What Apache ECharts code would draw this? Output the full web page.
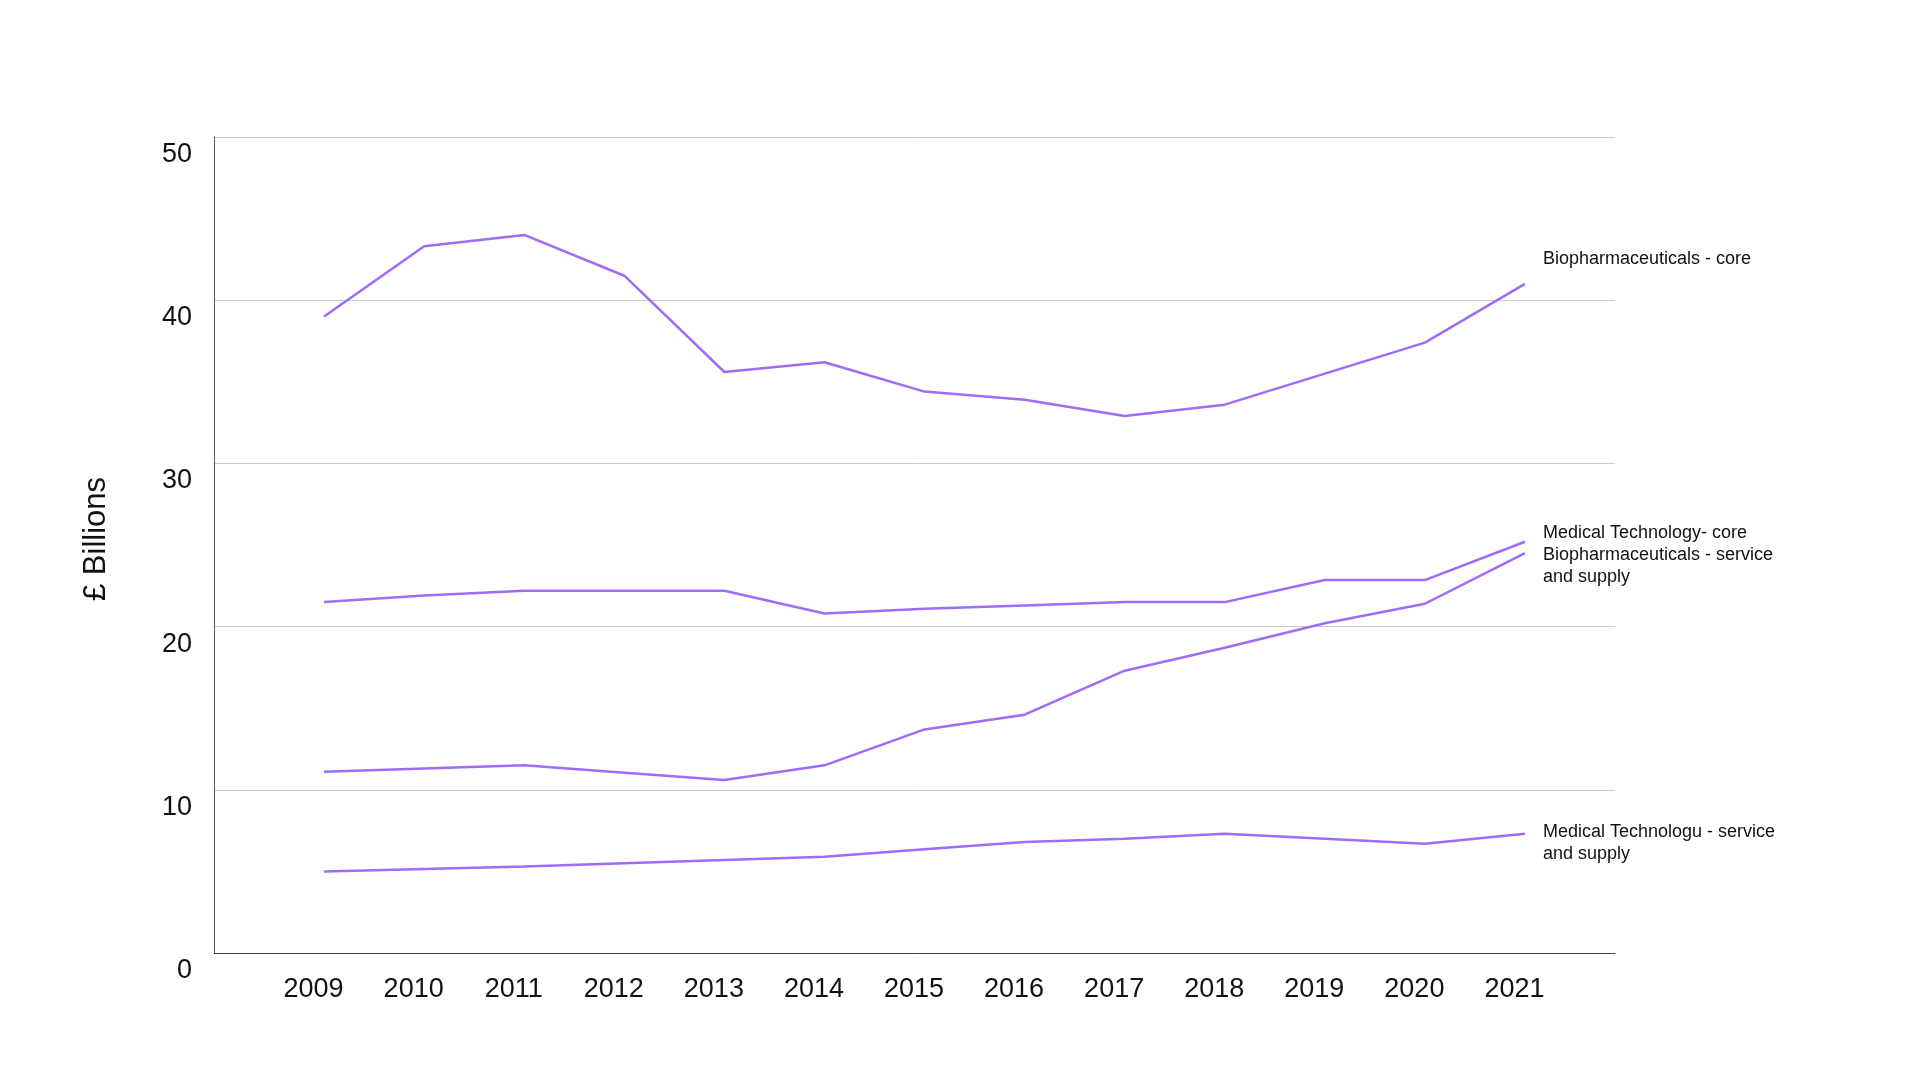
<!DOCTYPE html>
<html>
<head>
<meta charset="utf-8">
<script src="https://cdn.jsdelivr.net/npm/echarts@6/dist/echarts.min.js"></script>
<style>
html,body{margin:0;padding:0;background:#fff;}
#chart{width:1920px;height:1080px;}
</style>
</head>
<body>
<div id="chart"></div>
<script>
var years = [2009, 2010, 2011, 2012, 2013, 2014, 2015, 2016, 2017, 2018, 2019, 2020, 2021];
var yTicks = [0, 10, 20, 30, 40, 50];
var seriesNames = [
  'Biopharmaceuticals - core',
  'Medical Technology- core',
  'Biopharmaceuticals - service\nand supply',
  'Medical Technologu - service\nand supply'
];
var bioCore = [39.0, 43.3, 44.0, 41.5, 35.6, 36.2, 34.4, 33.9, 32.9, 33.6, 35.5, 37.4, 41.0];
var medCore = [21.5, 21.9, 22.2, 22.2, 22.2, 20.8, 21.1, 21.3, 21.5, 21.5, 22.85, 22.85, 25.2];
var bioSupply = [11.1, 11.3, 11.5, 11.05, 10.6, 11.5, 13.7, 14.6, 17.3, 18.7, 20.2, 21.4, 24.5];
var medSupply = [5.0, 5.15, 5.3, 5.5, 5.7, 5.9, 6.35, 6.8, 7.0, 7.3, 7.0, 6.7, 7.3];

var FONT = '"Liberation Sans", Arial, sans-serif';
var LINE = '#9d6cfb';

function pairs(vals) {
  return years.map(function (y, i) { return [y, vals[i]]; });
}
function mk(name, vals, dy) {
  return {
    name: name,
    type: 'line',
    data: pairs(vals),
    symbol: 'none',
    smooth: false,
    silent: true,
    lineStyle: { color: LINE, width: 2.5 },
    endLabel: {
      show: true,
      formatter: function (p) { return p.seriesName; },
      fontFamily: FONT,
      fontSize: 18,
      lineHeight: 22,
      color: '#111',
      distance: 18,
      align: 'left',
      verticalAlign: 'middle',
      offset: [0, dy]
    },
    emphasis: { disabled: true }
  };
}

var chart = echarts.init(document.getElementById('chart'), null, { renderer: 'canvas' });
chart.setOption({
  backgroundColor: '#ffffff',
  animation: false,
  grid: { left: 214, right: 305, top: 137, bottom: 127, containLabel: false },
  xAxis: {
    type: 'value',
    min: 2007.9,
    max: 2021.9,
    axisLine: { show: true, lineStyle: { color: '#444', width: 1 } },
    axisTick: { show: false },
    splitLine: { show: false },
    axisLabel: {
      customValues: years,
      formatter: function (v) { return String(v); },
      fontFamily: FONT,
      fontSize: 27,
      lineHeight: 27,
      color: '#111',
      margin: 23,
      padding: [0, 21, 0, 0]
    }
  },
  yAxis: {
    type: 'value',
    min: 0,
    max: 50,
    interval: 10,
    name: '£ Billions',
    nameLocation: 'middle',
    nameRotate: 90,
    nameGap: 102,
    nameTextStyle: { fontFamily: FONT, fontSize: 31, color: '#111', padding: [0, 0, 0, 12] },
    axisLine: { show: true, lineStyle: { color: '#555', width: 1 } },
    axisTick: { show: false },
    splitLine: { show: true, lineStyle: { color: '#cccccc', width: 1 } },
    axisLabel: {
      customValues: yTicks,
      fontFamily: FONT,
      fontSize: 27,
      lineHeight: 27,
      color: '#111',
      margin: 22,
      verticalAlign: 'top',
      padding: [4, 0, 0, 0]
    }
  },
  series: [
    mk(seriesNames[0], bioCore, -25),
    mk(seriesNames[1], medCore, -9),
    mk(seriesNames[2], bioSupply, 13),
    mk(seriesNames[3], medSupply, 9)
  ]
});
</script>
</body>
</html>
